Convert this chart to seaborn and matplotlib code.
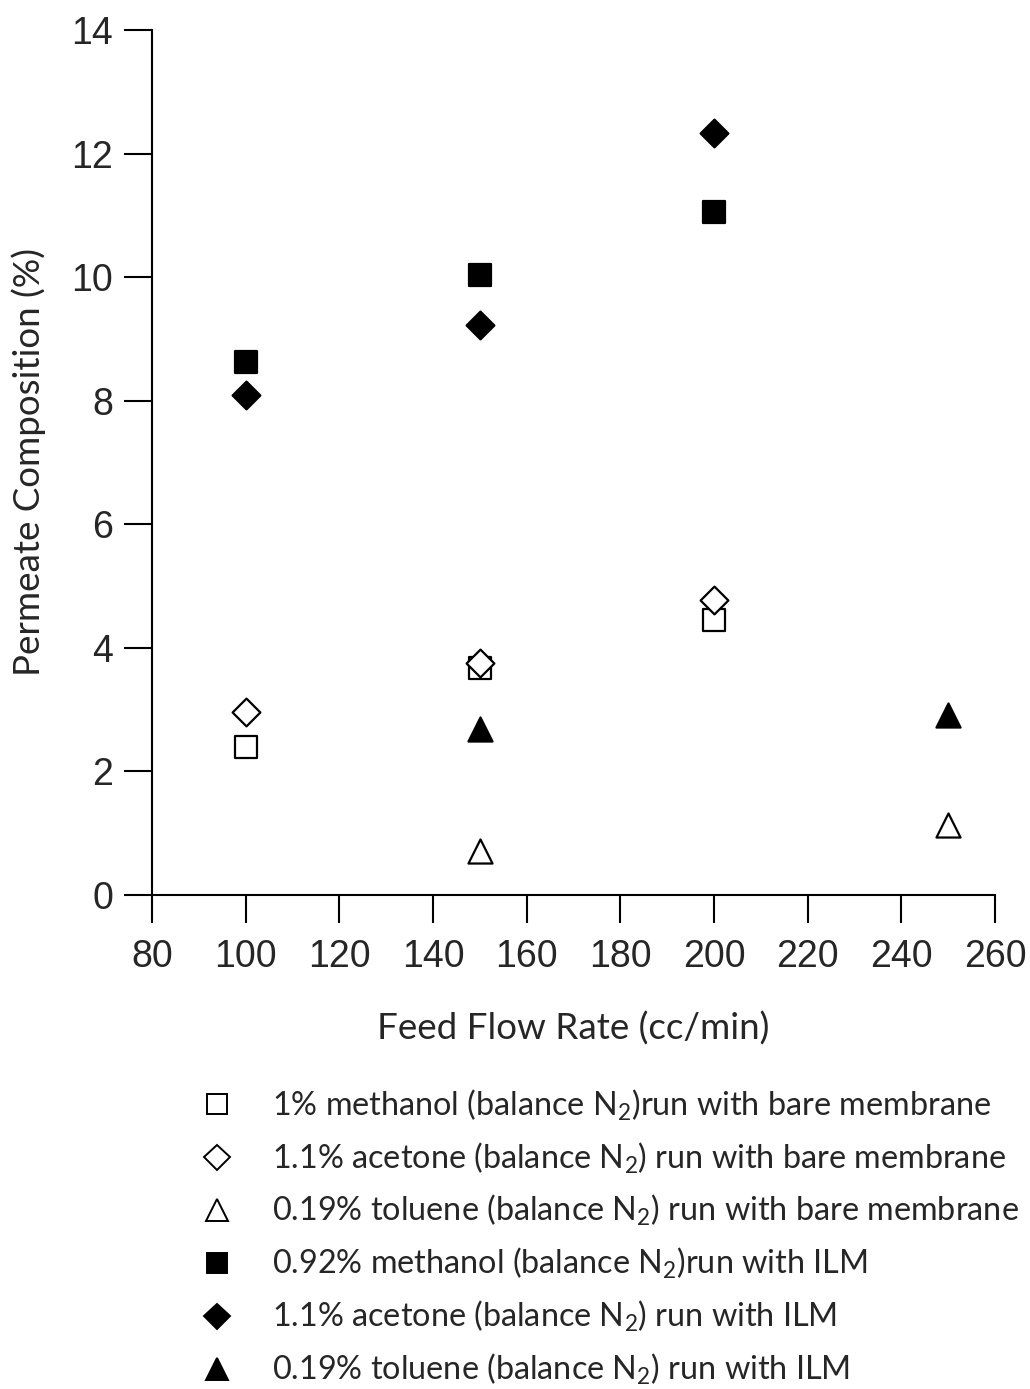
import matplotlib
matplotlib.use("Agg")
import matplotlib.pyplot as plt
import seaborn as sns
import pandas as pd
from matplotlib.lines import Line2D

sns.set_style("ticks")
plt.rcParams['font.family'] = ['Liberation Sans', 'DejaVu Sans']
plt.rcParams['mathtext.fontset'] = 'custom'
plt.rcParams['mathtext.rm'] = 'Lato'
plt.rcParams['mathtext.it'] = 'Lato'

# data
flow_meoh_bare = [100, 150, 200]
comp_meoh_bare = [2.39, 3.67, 4.45]
flow_acet_bare = [100, 150, 200]
comp_acet_bare = [2.96, 3.75, 4.77]
flow_tol_bare = [150, 250]
comp_tol_bare = [0.71, 1.13]
flow_meoh_ilm = [100, 150, 200]
comp_meoh_ilm = [8.63, 10.03, 11.05]
flow_acet_ilm = [100, 150, 200]
comp_acet_ilm = [8.10, 9.22, 12.33]
flow_tol_ilm = [150, 250]
comp_tol_ilm = [2.69, 2.91]

labels = [
    "1% methanol (balance N$_2$)run with bare membrane",
    "1.1% acetone (balance N$_2$) run with bare membrane",
    "0.19% toluene (balance N$_2$) run with bare membrane",
    "0.92% methanol (balance N$_2$)run with ILM",
    "1.1% acetone (balance N$_2$) run with ILM",
    "0.19% toluene (balance N$_2$) run with ILM",
]
xticks = [80, 100, 120, 140, 160, 180, 200, 220, 240, 260]
yticks = [0, 2, 4, 6, 8, 10, 12, 14]

series = [
    (flow_meoh_bare, comp_meoh_bare, 's', 'white', 240),
    (flow_acet_bare, comp_acet_bare, 'D', 'white', 200),
    (flow_tol_bare, comp_tol_bare, '^', 'white', 300),
    (flow_meoh_ilm, comp_meoh_ilm, 's', 'black', 240),
    (flow_acet_ilm, comp_acet_ilm, 'D', 'black', 200),
    (flow_tol_ilm, comp_tol_ilm, '^', 'black', 300),
]

fig = plt.figure(figsize=(10.3, 13.89), dpi=100)
ax = fig.add_axes([0.1476, 0.3557, 0.8184, 0.6227])

for (xs, ys, m, fc, s), lab in zip(series, labels):
    df = pd.DataFrame({'x': xs, 'y': ys})
    sns.scatterplot(data=df, x='x', y='y', marker=m, s=s, color=fc,
                    edgecolor='black', linewidth=1.6, ax=ax, label=lab, legend=False, zorder=3)

ax.set_xlim(80, 260)
ax.set_ylim(0, 14)
ax.set_xticks(xticks)
ax.set_yticks(yticks)
ax.tick_params(axis='both', direction='out', length=20, width=1.5, labelsize=27, color='black')
ax.tick_params(axis='x', pad=12)
ax.tick_params(axis='y', pad=8)
for sp in ['top', 'right']:
    ax.spines[sp].set_visible(False)
for sp in ['left', 'bottom']:
    ax.spines[sp].set_linewidth(1.5)
    ax.spines[sp].set_color('black')

ax.set_xlabel("Feed Flow Rate (cc/min)", fontsize=26.5, family='Lato', labelpad=26)
ax.set_ylabel("Permeate Composition (%)", fontsize=26.5, family='Lato', labelpad=18)

handles = []
for (xs, ys, m, fc, s), lab in zip(series, labels):
    handles.append(Line2D([], [], linestyle='none', marker=m, markersize=(s ** 0.5) * 0.9,
                          markerfacecolor=fc, markeredgecolor='black', markeredgewidth=1.4))
fig.legend(handles, labels, loc='upper left', bbox_to_anchor=(0.195, 0.217), frameon=False,
           prop={'family': 'Lato', 'size': 23.3}, handlelength=1.0, handletextpad=1.2,
           labelspacing=0.55, borderaxespad=0, borderpad=0)

fig.savefig("out.png", dpi=100, facecolor='white')
